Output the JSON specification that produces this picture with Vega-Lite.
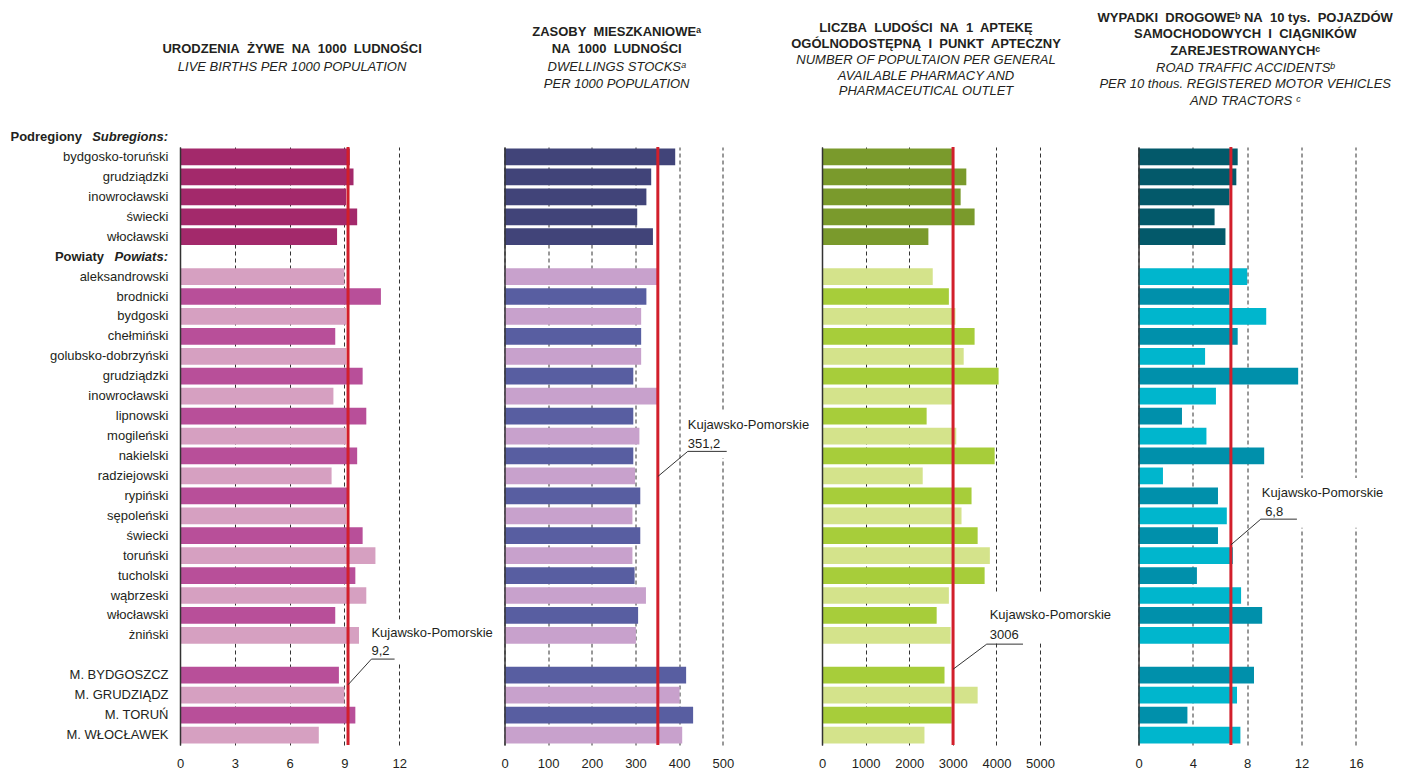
{
  "$schema": "https://vega.github.io/schema/vega-lite/v6.json",
  "background": "white",
  "padding": {"left": 10, "top": 11, "right": 2, "bottom": 5},
  "bounds": "flush",
  "spacing": 98.5,
  "resolve": {"scale": {"color": "independent"}},
  "config": {
    "view": {"stroke": null},
    "font": "Liberation Sans",
    "text": {"font": "Liberation Sans", "fontSize": 13, "color": "#231f20"},
    "axis": {"labelFont": "Liberation Sans", "labelColor": "#231f20", "labelFontSize": 13},
    "title": {"font": "Liberation Sans", "subtitleFont": "Liberation Sans"}
  },
  "datasets": {
    "main": [
      {"name": "bydgosko-toruński", "kind": "podregion", "births": 9.3, "dwellings": 391, "pharmacy": 2980, "accidents": 7.3},
      {"name": "grudziądzki", "kind": "podregion", "births": 9.5, "dwellings": 336, "pharmacy": 3310, "accidents": 7.2},
      {"name": "inowrocławski", "kind": "podregion", "births": 9.1, "dwellings": 325, "pharmacy": 3180, "accidents": 6.7},
      {"name": "świecki", "kind": "podregion", "births": 9.7, "dwellings": 304, "pharmacy": 3500, "accidents": 5.6},
      {"name": "włocławski", "kind": "podregion", "births": 8.6, "dwellings": 340, "pharmacy": 2440, "accidents": 6.4},
      {"name": "aleksandrowski", "kind": "powiat-a", "births": 9.0, "dwellings": 350, "pharmacy": 2540, "accidents": 8.0},
      {"name": "brodnicki", "kind": "powiat-b", "births": 11.0, "dwellings": 325, "pharmacy": 2910, "accidents": 6.7},
      {"name": "bydgoski", "kind": "powiat-a", "births": 9.1, "dwellings": 313, "pharmacy": 3060, "accidents": 9.4},
      {"name": "chełmiński", "kind": "powiat-b", "births": 8.5, "dwellings": 313, "pharmacy": 3500, "accidents": 7.3},
      {"name": "golubsko-dobrzyński", "kind": "powiat-a", "births": 9.1, "dwellings": 313, "pharmacy": 3250, "accidents": 4.9},
      {"name": "grudziądzki (powiat)", "kind": "powiat-b", "births": 10.0, "dwellings": 295, "pharmacy": 4050, "accidents": 11.75},
      {"name": "inowrocławski (powiat)", "kind": "powiat-a", "births": 8.4, "dwellings": 350, "pharmacy": 2980, "accidents": 5.7},
      {"name": "lipnowski", "kind": "powiat-b", "births": 10.2, "dwellings": 295, "pharmacy": 2400, "accidents": 3.2},
      {"name": "mogileński", "kind": "powiat-a", "births": 9.1, "dwellings": 309, "pharmacy": 3080, "accidents": 5.0},
      {"name": "nakielski", "kind": "powiat-b", "births": 9.7, "dwellings": 295, "pharmacy": 3960, "accidents": 9.25},
      {"name": "radziejowski", "kind": "powiat-a", "births": 8.3, "dwellings": 299, "pharmacy": 2310, "accidents": 1.8},
      {"name": "rypiński", "kind": "powiat-b", "births": 9.2, "dwellings": 311, "pharmacy": 3430, "accidents": 5.85},
      {"name": "sępoleński", "kind": "powiat-a", "births": 9.1, "dwellings": 293, "pharmacy": 3200, "accidents": 6.5},
      {"name": "świecki (powiat)", "kind": "powiat-b", "births": 10.0, "dwellings": 311, "pharmacy": 3570, "accidents": 5.85},
      {"name": "toruński", "kind": "powiat-a", "births": 10.7, "dwellings": 293, "pharmacy": 3850, "accidents": 6.95},
      {"name": "tucholski", "kind": "powiat-b", "births": 9.6, "dwellings": 298, "pharmacy": 3730, "accidents": 4.3},
      {"name": "wąbrzeski", "kind": "powiat-a", "births": 10.2, "dwellings": 324, "pharmacy": 2910, "accidents": 7.55},
      {"name": "włocławski (powiat)", "kind": "powiat-b", "births": 8.5, "dwellings": 306, "pharmacy": 2630, "accidents": 9.1},
      {"name": "żniński", "kind": "powiat-a", "births": 9.8, "dwellings": 301, "pharmacy": 2950, "accidents": 6.7},
      {"name": "M. BYDGOSZCZ", "kind": "powiat-b", "births": 8.7, "dwellings": 416, "pharmacy": 2810, "accidents": 8.5},
      {"name": "M. GRUDZIĄDZ", "kind": "powiat-a", "births": 9.0, "dwellings": 401, "pharmacy": 3570, "accidents": 7.25},
      {"name": "M. TORUŃ", "kind": "powiat-b", "births": 9.6, "dwellings": 432, "pharmacy": 2975, "accidents": 3.6},
      {"name": "M. WŁOCŁAWEK", "kind": "powiat-a", "births": 7.6, "dwellings": 407, "pharmacy": 2350, "accidents": 7.5}
    ]
  },
  "hconcat": [
    {
      "width": 225.2,
      "height": 598,
      "title": {
        "text": ["URODZENIA\u00a0 ŻYWE\u00a0 NA\u00a0 1000\u00a0 LUDNOŚCI"],
        "subtitle": ["LIVE BIRTHS PER 1000 POPULATION"],
        "fontSize": 13, "fontWeight": "bold", "color": "#231f20",
        "subtitleFontSize": 13, "subtitleFontStyle": "italic", "subtitleColor": "#231f20",
        "lineHeight": 16.5, "subtitleLineHeight": 16.5, "subtitlePadding": 5,
        "anchor": "middle", "frame": "group", "offset": 57, "dx": -0.5
      },
      "resolve": {"scale": {"y": "independent"}},
      "layer": [
        {
          "data": {"name": "main"},
          "mark": {"type": "bar"},
          "encoding": {
            "y": {"field": "name", "type": "nominal",
              "scale": {"domain": ["bydgosko-toruński","grudziądzki","inowrocławski","świecki","włocławski","_hdr","aleksandrowski","brodnicki","bydgoski","chełmiński","golubsko-dobrzyński","grudziądzki (powiat)","inowrocławski (powiat)","lipnowski","mogileński","nakielski","radziejowski","rypiński","sępoleński","świecki (powiat)","toruński","tucholski","wąbrzeski","włocławski (powiat)","żniński","_gap","M. BYDGOSZCZ","M. GRUDZIĄDZ","M. TORUŃ","M. WŁOCŁAWEK"], "paddingInner": 0.16, "paddingOuter": 0.08},
              "axis": {"title": null, "labelExpr": "indexof(datum.value, '_') == 0 ? '' : replace(datum.value, ' (powiat)', '')", "labelPadding": 12, "ticks": false, "domainColor": "#333333", "domainWidth": 1.5, "grid": false, "labelLimit": 300, "zindex": 1}},
            "x": {"field": "births", "type": "quantitative", "title": null,
              "scale": {"domain": [0, 12.33], "nice": false, "zero": true},
              "axis": {"values": [0, 3, 6, 9, 12], "format": "d", "grid": true, "gridDash": [4, 3], "gridColor": "#333333", "gridWidth": 1, "domain": false, "ticks": false, "labelPadding": 12, "labelFlush": false, "labelOverlap": false}},
            "color": {"field": "kind", "type": "nominal", "legend": null,
              "scale": {"domain": ["podregion", "powiat-a", "powiat-b"], "range": ["#a3296b", "#d6a0c1", "#b84f99"]}}
          }
        },
        {
          "data": {"values": [{"x": 10.35, "x2": 12.33, "r": 23.7, "r2": 25.9}]},
          "mark": {"type": "rect", "fill": "white"},
          "encoding": {
            "x": {"field": "x", "type": "quantitative", "title": null},
            "x2": {"field": "x2"},
            "y": {"field": "r", "type": "quantitative", "axis": null, "scale": {"domain": [0, 30], "reverse": true, "nice": false, "zero": false}},
            "y2": {"field": "r2"}
          }
        },
        {
          "data": {"values": [{"v": 9.2}]},
          "mark": {"type": "rule", "color": "#d21f2b", "strokeWidth": 3},
          "encoding": {"x": {"field": "v", "type": "quantitative", "title": null}}
        },
        {
          "data": {"values": [{"x": 9.2, "r": 26.98, "o": 1}, {"x": 10.48, "r": 25.69, "o": 2}, {"x": 11.75, "r": 25.69, "o": 3}]},
          "mark": {"type": "line", "color": "#333333", "strokeWidth": 1},
          "encoding": {
            "x": {"field": "x", "type": "quantitative", "title": null},
            "y": {"field": "r", "type": "quantitative", "axis": null, "scale": {"domain": [0, 30], "reverse": true, "nice": false, "zero": false}},
            "order": {"field": "o"}
          }
        },
        {
          "data": {"values": [{"x": 10.48, "r": 24.36, "t": "Kujawsko-Pomorskie"}, {"x": 10.48, "r": 25.27, "t": "9,2"}]},
          "mark": {"type": "text", "align": "left", "baseline": "middle", "fontSize": 13},
          "encoding": {
            "x": {"field": "x", "type": "quantitative", "title": null},
            "y": {"field": "r", "type": "quantitative", "axis": null, "scale": {"domain": [0, 30], "reverse": true, "nice": false, "zero": false}},
            "text": {"field": "t"}
          }
        },
        {
          "data": {"values": [{"r": -0.5, "t": "Subregions:"}, {"r": 5.5, "t": "Powiats:"}]},
          "mark": {"type": "text", "align": "right", "baseline": "middle", "fontSize": 13, "fontWeight": "bold", "fontStyle": "italic", "dx": -12},
          "encoding": {
            "x": {"datum": 0},
            "y": {"field": "r", "type": "quantitative", "axis": null, "scale": {"domain": [0, 30], "reverse": true, "nice": false, "zero": false}},
            "text": {"field": "t"}
          }
        },
        {
          "data": {"values": [{"r": -0.5, "t": "Podregiony"}]},
          "mark": {"type": "text", "align": "right", "baseline": "middle", "fontSize": 13, "fontWeight": "bold", "dx": -98},
          "encoding": {
            "x": {"datum": 0},
            "y": {"field": "r", "type": "quantitative", "axis": null, "scale": {"domain": [0, 30], "reverse": true, "nice": false, "zero": false}},
            "text": {"field": "t"}
          }
        },
        {
          "data": {"values": [{"r": 5.5, "t": "Powiaty"}]},
          "mark": {"type": "text", "align": "right", "baseline": "middle", "fontSize": 13, "fontWeight": "bold", "dx": -76},
          "encoding": {
            "x": {"datum": 0},
            "y": {"field": "r", "type": "quantitative", "axis": null, "scale": {"domain": [0, 30], "reverse": true, "nice": false, "zero": false}},
            "text": {"field": "t"}
          }
        }
      ]
    },
    {
      "width": 218.3,
      "height": 598,
      "title": {
        "text": ["ZASOBY\u00a0 MIESZKANIOWEᵃ", "NA\u00a0 1000\u00a0 LUDNOŚCI"],
        "subtitle": ["DWELLINGS STOCKSᵃ", "PER 1000 POPULATION"],
        "fontSize": 13, "fontWeight": "bold", "color": "#231f20",
        "subtitleFontSize": 13, "subtitleFontStyle": "italic", "subtitleColor": "#231f20",
        "lineHeight": 17, "subtitleLineHeight": 17, "subtitlePadding": 5,
        "anchor": "middle", "frame": "group", "offset": 54.5, "dx": 3
      },
      "resolve": {"scale": {"y": "independent"}},
      "layer": [
        {
          "data": {"name": "main"},
          "mark": {"type": "bar"},
          "encoding": {
            "y": {"field": "name", "type": "nominal",
              "scale": {"domain": ["bydgosko-toruński","grudziądzki","inowrocławski","świecki","włocławski","_hdr","aleksandrowski","brodnicki","bydgoski","chełmiński","golubsko-dobrzyński","grudziądzki (powiat)","inowrocławski (powiat)","lipnowski","mogileński","nakielski","radziejowski","rypiński","sępoleński","świecki (powiat)","toruński","tucholski","wąbrzeski","włocławski (powiat)","żniński","_gap","M. BYDGOSZCZ","M. GRUDZIĄDZ","M. TORUŃ","M. WŁOCŁAWEK"], "paddingInner": 0.16, "paddingOuter": 0.08},
              "axis": {"title": null, "labels": false, "ticks": false, "domainColor": "#333333", "domainWidth": 1.5, "grid": false, "zindex": 1}},
            "x": {"field": "dwellings", "type": "quantitative", "title": null,
              "scale": {"domain": [0, 500], "nice": false, "zero": true},
              "axis": {"values": [0, 100, 200, 300, 400, 500], "format": "d", "grid": true, "gridDash": [4, 3], "gridColor": "#333333", "gridWidth": 1, "domain": false, "ticks": false, "labelPadding": 12, "labelFlush": false, "labelOverlap": false}},
            "color": {"field": "kind", "type": "nominal", "legend": null,
              "scale": {"domain": ["podregion", "powiat-a", "powiat-b"], "range": ["#414479", "#c8a1cc", "#585ea1"]}}
          }
        },
        {
          "data": {"values": [{"x": 415, "x2": 510, "r": 13.27, "r2": 15.6}]},
          "mark": {"type": "rect", "fill": "white"},
          "encoding": {
            "x": {"field": "x", "type": "quantitative", "title": null},
            "x2": {"field": "x2"},
            "y": {"field": "r", "type": "quantitative", "axis": null, "scale": {"domain": [0, 30], "reverse": true, "nice": false, "zero": false}},
            "y2": {"field": "r2"}
          }
        },
        {
          "data": {"values": [{"v": 351.2}]},
          "mark": {"type": "rule", "color": "#d21f2b", "strokeWidth": 3},
          "encoding": {"x": {"field": "v", "type": "quantitative", "title": null}}
        },
        {
          "data": {"values": [{"x": 351.2, "r": 16.53, "o": 1}, {"x": 419.8, "r": 15.27, "o": 2}, {"x": 509, "r": 15.27, "o": 3}]},
          "mark": {"type": "line", "color": "#333333", "strokeWidth": 1},
          "encoding": {
            "x": {"field": "x", "type": "quantitative", "title": null},
            "y": {"field": "r", "type": "quantitative", "axis": null, "scale": {"domain": [0, 30], "reverse": true, "nice": false, "zero": false}},
            "order": {"field": "o"}
          }
        },
        {
          "data": {"values": [{"x": 419.8, "r": 13.93, "t": "Kujawsko-Pomorskie"}, {"x": 419.8, "r": 14.9, "t": "351,2"}]},
          "mark": {"type": "text", "align": "left", "baseline": "middle", "fontSize": 13},
          "encoding": {
            "x": {"field": "x", "type": "quantitative", "title": null},
            "y": {"field": "r", "type": "quantitative", "axis": null, "scale": {"domain": [0, 30], "reverse": true, "nice": false, "zero": false}},
            "text": {"field": "t"}
          }
        }
      ]
    },
    {
      "width": 218,
      "height": 598,
      "title": {
        "text": ["LICZBA\u00a0 LUDOŚCI\u00a0 NA\u00a0 1\u00a0 APTEKĘ", "OGÓLNODOSTĘPNĄ\u00a0 I\u00a0 PUNKT\u00a0 APTECZNY"],
        "subtitle": ["NUMBER OF POPULTAION PER GENERAL", "AVAILABLE PHARMACY AND", "PHARMACEUTICAL OUTLET"],
        "fontSize": 13, "fontWeight": "bold", "color": "#231f20",
        "subtitleFontSize": 13, "subtitleFontStyle": "italic", "subtitleColor": "#231f20",
        "lineHeight": 16.5, "subtitleLineHeight": 15.5, "subtitlePadding": 3,
        "anchor": "middle", "frame": "group", "offset": 47.5, "dx": -5
      },
      "resolve": {"scale": {"y": "independent"}},
      "layer": [
        {
          "data": {"name": "main"},
          "mark": {"type": "bar"},
          "encoding": {
            "y": {"field": "name", "type": "nominal",
              "scale": {"domain": ["bydgosko-toruński","grudziądzki","inowrocławski","świecki","włocławski","_hdr","aleksandrowski","brodnicki","bydgoski","chełmiński","golubsko-dobrzyński","grudziądzki (powiat)","inowrocławski (powiat)","lipnowski","mogileński","nakielski","radziejowski","rypiński","sępoleński","świecki (powiat)","toruński","tucholski","wąbrzeski","włocławski (powiat)","żniński","_gap","M. BYDGOSZCZ","M. GRUDZIĄDZ","M. TORUŃ","M. WŁOCŁAWEK"], "paddingInner": 0.16, "paddingOuter": 0.08},
              "axis": {"title": null, "labels": false, "ticks": false, "domainColor": "#333333", "domainWidth": 1.5, "grid": false, "zindex": 1}},
            "x": {"field": "pharmacy", "type": "quantitative", "title": null,
              "scale": {"domain": [0, 5000], "nice": false, "zero": true},
              "axis": {"values": [0, 1000, 2000, 3000, 4000, 5000], "format": "d", "grid": true, "gridDash": [4, 3], "gridColor": "#333333", "gridWidth": 1, "domain": false, "ticks": false, "labelPadding": 12, "labelFlush": false, "labelOverlap": false}},
            "color": {"field": "kind", "type": "nominal", "legend": null,
              "scale": {"domain": ["podregion", "powiat-a", "powiat-b"], "range": ["#7a9a2c", "#d4e38b", "#a7cd3a"]}}
          }
        },
        {
          "data": {"values": [{"x": 3800, "x2": 5050, "r": 22.37, "r2": 24.89}]},
          "mark": {"type": "rect", "fill": "white"},
          "encoding": {
            "x": {"field": "x", "type": "quantitative", "title": null},
            "x2": {"field": "x2"},
            "y": {"field": "r", "type": "quantitative", "axis": null, "scale": {"domain": [0, 30], "reverse": true, "nice": false, "zero": false}},
            "y2": {"field": "r2"}
          }
        },
        {
          "data": {"values": [{"v": 3006}]},
          "mark": {"type": "rule", "color": "#d21f2b", "strokeWidth": 3},
          "encoding": {"x": {"field": "v", "type": "quantitative", "title": null}}
        },
        {
          "data": {"values": [{"x": 3006, "r": 26.2, "o": 1}, {"x": 3778, "r": 24.94, "o": 2}, {"x": 4610, "r": 24.94, "o": 3}]},
          "mark": {"type": "line", "color": "#333333", "strokeWidth": 1},
          "encoding": {
            "x": {"field": "x", "type": "quantitative", "title": null},
            "y": {"field": "r", "type": "quantitative", "axis": null, "scale": {"domain": [0, 30], "reverse": true, "nice": false, "zero": false}},
            "order": {"field": "o"}
          }
        },
        {
          "data": {"values": [{"x": 3846, "r": 23.5, "t": "Kujawsko-Pomorskie"}, {"x": 3846, "r": 24.47, "t": "3006"}]},
          "mark": {"type": "text", "align": "left", "baseline": "middle", "fontSize": 13},
          "encoding": {
            "x": {"field": "x", "type": "quantitative", "title": null},
            "y": {"field": "r", "type": "quantitative", "axis": null, "scale": {"domain": [0, 30], "reverse": true, "nice": false, "zero": false}},
            "text": {"field": "t"}
          }
        }
      ]
    },
    {
      "width": 217.4,
      "height": 598,
      "title": {
        "text": ["WYPADKI\u00a0 DROGOWEᵇ NA\u00a0 10 tys.\u00a0 POJAZDÓW", "SAMOCHODOWYCH\u00a0 I\u00a0 CIĄGNIKÓW", "ZAREJESTROWANYCHᶜ"],
        "subtitle": ["ROAD TRAFFIC ACCIDENTSᵇ", "PER 10 thous. REGISTERED MOTOR VEHICLES", "AND TRACTORS ᶜ"],
        "fontSize": 13, "fontWeight": "bold", "color": "#231f20",
        "subtitleFontSize": 13, "subtitleFontStyle": "italic", "subtitleColor": "#231f20",
        "lineHeight": 16.5, "subtitleLineHeight": 16.5, "subtitlePadding": 4,
        "anchor": "middle", "frame": "group", "offset": 38, "dx": -2
      },
      "resolve": {"scale": {"y": "independent"}},
      "layer": [
        {
          "data": {"name": "main"},
          "mark": {"type": "bar"},
          "encoding": {
            "y": {"field": "name", "type": "nominal",
              "scale": {"domain": ["bydgosko-toruński","grudziądzki","inowrocławski","świecki","włocławski","_hdr","aleksandrowski","brodnicki","bydgoski","chełmiński","golubsko-dobrzyński","grudziądzki (powiat)","inowrocławski (powiat)","lipnowski","mogileński","nakielski","radziejowski","rypiński","sępoleński","świecki (powiat)","toruński","tucholski","wąbrzeski","włocławski (powiat)","żniński","_gap","M. BYDGOSZCZ","M. GRUDZIĄDZ","M. TORUŃ","M. WŁOCŁAWEK"], "paddingInner": 0.16, "paddingOuter": 0.08},
              "axis": {"title": null, "labels": false, "ticks": false, "domainColor": "#333333", "domainWidth": 1.5, "grid": false, "zindex": 1}},
            "x": {"field": "accidents", "type": "quantitative", "title": null,
              "scale": {"domain": [0, 16], "nice": false, "zero": true},
              "axis": {"values": [0, 4, 8, 12, 16], "format": "d", "grid": true, "gridDash": [4, 3], "gridColor": "#333333", "gridWidth": 1, "domain": false, "ticks": false, "labelPadding": 12, "labelFlush": false, "labelOverlap": false}},
            "color": {"field": "kind", "type": "nominal", "legend": null,
              "scale": {"domain": ["podregion", "powiat-a", "powiat-b"], "range": ["#03596a", "#00b6cd", "#0090ab"]}}
          }
        },
        {
          "data": {"values": [{"x": 8.9, "x2": 16.3, "r": 16.6, "r2": 19.1}]},
          "mark": {"type": "rect", "fill": "white"},
          "encoding": {
            "x": {"field": "x", "type": "quantitative", "title": null},
            "x2": {"field": "x2"},
            "y": {"field": "r", "type": "quantitative", "axis": null, "scale": {"domain": [0, 30], "reverse": true, "nice": false, "zero": false}},
            "y2": {"field": "r2"}
          }
        },
        {
          "data": {"values": [{"v": 6.8}]},
          "mark": {"type": "rule", "color": "#d21f2b", "strokeWidth": 3},
          "encoding": {"x": {"field": "v", "type": "quantitative", "title": null}}
        },
        {
          "data": {"values": [{"x": 6.8, "r": 19.96, "o": 1}, {"x": 9.0, "r": 18.67, "o": 2}, {"x": 11.66, "r": 18.67, "o": 3}]},
          "mark": {"type": "line", "color": "#333333", "strokeWidth": 1},
          "encoding": {
            "x": {"field": "x", "type": "quantitative", "title": null},
            "y": {"field": "r", "type": "quantitative", "axis": null, "scale": {"domain": [0, 30], "reverse": true, "nice": false, "zero": false}},
            "order": {"field": "o"}
          }
        },
        {
          "data": {"values": [{"x": 9.08, "r": 17.36, "t": "Kujawsko-Pomorskie"}, {"x": 9.32, "r": 18.33, "t": "6,8"}]},
          "mark": {"type": "text", "align": "left", "baseline": "middle", "fontSize": 13},
          "encoding": {
            "x": {"field": "x", "type": "quantitative", "title": null},
            "y": {"field": "r", "type": "quantitative", "axis": null, "scale": {"domain": [0, 30], "reverse": true, "nice": false, "zero": false}},
            "text": {"field": "t"}
          }
        }
      ]
    }
  ]
}
